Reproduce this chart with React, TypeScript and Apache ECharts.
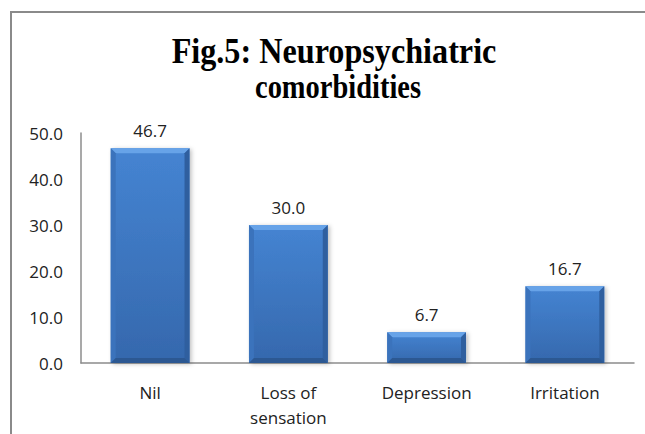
import React, { useEffect, useRef } from "react";
import * as echarts from "echarts";

const categories = ["Nil", "Loss of\nsensation", "Depression", "Irritation"];
const values = [46.7, 30.0, 6.7, 16.7];
const yTicks = { min: 0, max: 50, interval: 10 };
const titleLines = ["Fig.5: Neuropsychiatric", "comorbidities"];

export default function App() {
  const ref = useRef<HTMLDivElement>(null);
  useEffect(() => {
    const chart = echarts.init(ref.current!, null, { renderer: "svg" });
    const barRatio = 0.57;
    chart.setOption({
      animation: false,
      backgroundColor: "#ffffff",
      graphic: [
        { type: "line", shape: { x1: 10, y1: 12, x2: 645, y2: 12 }, style: { stroke: "#8a8a8a", lineWidth: 2 } },
        { type: "line", shape: { x1: 11, y1: 11, x2: 11, y2: 434 }, style: { stroke: "#8a8a8a", lineWidth: 2 } },
        {
          type: "text",
          x: 334,
          y: 51,
          scaleX: 0.92,
          style: {
            text: titleLines[0],
            font: 'bold 35px "Liberation Serif"',
            fill: "#000000",
            textAlign: "center",
            textVerticalAlign: "middle",
          },
        },
        {
          type: "text",
          x: 338,
          y: 87,
          scaleX: 0.85,
          style: {
            text: titleLines[1],
            font: 'bold 33.5px "Liberation Serif"',
            fill: "#000000",
            textAlign: "center",
            textVerticalAlign: "middle",
          },
        },
      ],
      grid: { left: 81, right: 11, top: 133, bottom: 71, containLabel: false },
      xAxis: {
        type: "category",
        data: categories,
        axisLine: { show: true, lineStyle: { color: "#8c8c8c", width: 1.5 } },
        axisTick: { show: false },
        axisLabel: {
          margin: 17,
          fontFamily: "Open Sans",
          fontSize: 17,
          lineHeight: 25,
          color: "#222222",
          verticalAlign: "top",
        },
      },
      yAxis: {
        type: "value",
        min: yTicks.min,
        max: yTicks.max,
        interval: yTicks.interval,
        splitLine: { show: false },
        axisLine: { show: true, lineStyle: { color: "#8c8c8c", width: 1.5 } },
        axisTick: { show: false },
        axisLabel: {
          margin: 18,
          fontFamily: "Open Sans",
          fontSize: 17,
          color: "#222222",
          formatter: (v: number) => v.toFixed(1),
        },
      },
      series: [
        {
          type: "bar",
          data: values,
          barWidth: barRatio * 100 + "%",
          itemStyle: {
            color: new echarts.graphic.LinearGradient(0, 0, 0, 1, [
              { offset: 0, color: "#4584d2" },
              { offset: 1, color: "#3568ad" },
            ]),
            shadowColor: "rgba(0,0,0,0.25)",
            shadowBlur: 4,
            shadowOffsetX: 2,
            shadowOffsetY: 1,
          },
          label: {
            show: true,
            position: "top",
            distance: 9,
            fontFamily: "Open Sans",
            fontSize: 17,
            color: "#222222",
            formatter: (p: any) => Number(p.value).toFixed(1),
          },
          z: 2,
        },
        {
          type: "custom",
          data: values.map((v, i) => [i, v]),
          z: 3,
          silent: true,
          renderItem: (params: any, api: any) => {
            const idx = api.value(0);
            const val = api.value(1);
            const top = api.coord([idx, val]);
            const base = api.coord([idx, 0]);
            const w = api.size([1, 0])[0] * barRatio;
            const x0 = top[0] - w / 2;
            const x1 = x0 + w;
            const yt = top[1];
            const yb = base[1];
            const b = Math.min(5, (yb - yt) / 2);
            return {
              type: "group",
              children: [
                {
                  type: "polygon",
                  shape: { points: [[x0, yt], [x1, yt], [x1 - b, yt + b], [x0 + b, yt + b]] },
                  style: { fill: "#67a3e8" },
                },
                {
                  type: "polygon",
                  shape: { points: [[x0, yt], [x0 + b, yt + b], [x0 + b, yb - b], [x0, yb]] },
                  style: { fill: "#3b73bc" },
                },
                {
                  type: "polygon",
                  shape: { points: [[x1, yt], [x1 - b, yt + b], [x1 - b, yb - b], [x1, yb]] },
                  style: { fill: "#2f5f9f" },
                },
                {
                  type: "polygon",
                  shape: { points: [[x0, yb], [x0 + b, yb - b], [x1 - b, yb - b], [x1, yb]] },
                  style: { fill: "#2c5892" },
                },
              ],
            };
          },
        },
      ],
    });
    return () => chart.dispose();
  }, []);
  return (
    <div
      ref={ref}
      style={{ position: "fixed", left: 0, top: 0, width: 645, height: 434 }}
    />
  );
}
